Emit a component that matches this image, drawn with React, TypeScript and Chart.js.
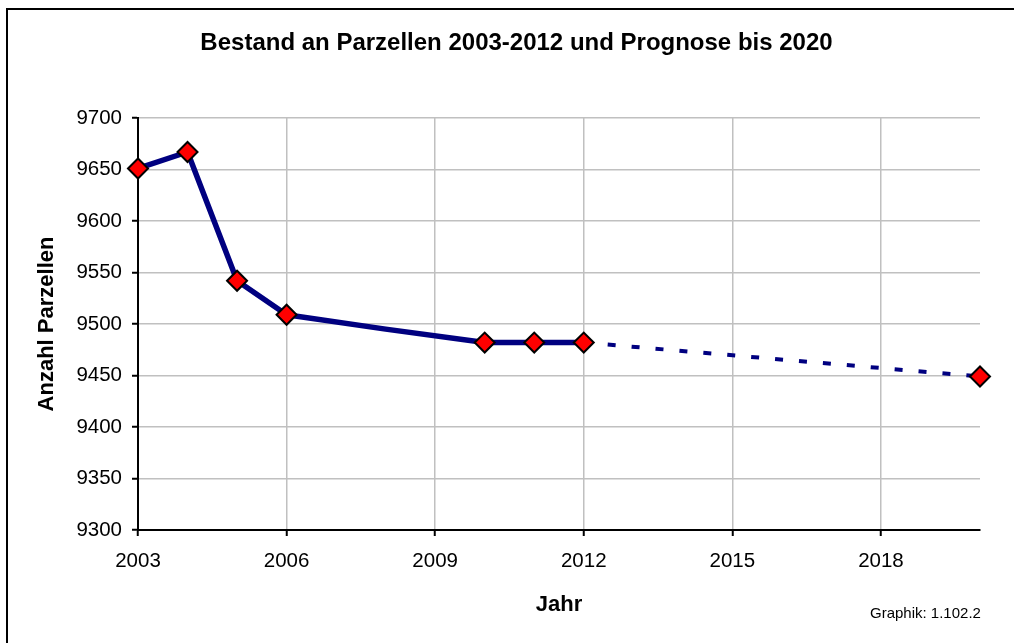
import React, { useEffect, useRef } from "react";
import { Chart, registerables } from "chart.js";

Chart.register(...registerables);

const TITLE = "Bestand an Parzellen 2003-2012 und Prognose bis 2020";
const Y_TITLE = "Anzahl Parzellen";
const X_TITLE = "Jahr";
const NOTE = "Graphik: 1.102.2";

// Bestand (actual values)
const years = [2003, 2004, 2005, 2006, 2008, 2010, 2011, 2012];
const bestand = [9651, 9667, 9542, 9509, 9495, 9482, 9482, 9482];
const markedYears = [2003, 2004, 2005, 2006, 2010, 2011, 2012];

// Prognose (forecast)
const prognoseYears = [2012, 2020];
const prognose = [9482, 9449];

const xTicks = [2003, 2006, 2009, 2012, 2015, 2018];
const xMin = 2003;
const xMax = 2020;
const yMin = 9300;
const yMax = 9700;
const yStep = 50;

const FONT = "'Liberation Sans', Arial, Helvetica, sans-serif";

export default function App() {
  const canvasRef = useRef<HTMLCanvasElement | null>(null);

  useEffect(() => {
    const canvas = canvasRef.current;
    if (!canvas) return;
    Chart.defaults.font.family = FONT;
    Chart.defaults.color = "#000";

    const chart = new Chart(canvas, {
      type: "line",
      data: {
        datasets: [
          {
            label: "Bestand",
            data: years.map((x, i) => ({ x, y: bestand[i] })),
            borderColor: "#000080",
            borderWidth: 5.5,
            borderJoinStyle: "round",
            tension: 0,
            pointStyle: "rectRot",
            pointRadius: (ctx: any) =>
              markedYears.includes(years[ctx.dataIndex]) ? 10 : 0,
            pointBackgroundColor: "#ff0000",
            pointBorderColor: "#000000",
            pointBorderWidth: 2,
            clip: false,
          } as any,
          {
            label: "Prognose",
            data: prognoseYears.map((x, i) => ({ x, y: prognose[i] })),
            borderColor: "#000080",
            borderWidth: 4,
            borderDash: [8, 16],
            borderCapStyle: "butt",
            tension: 0,
            pointStyle: "rectRot",
            pointRadius: (ctx: any) => (ctx.dataIndex === 0 ? 0 : 10),
            pointBackgroundColor: "#ff0000",
            pointBorderColor: "#000000",
            pointBorderWidth: 2,
            clip: false,
          } as any,
        ],
      },
      options: {
        responsive: false,
        animation: false,
        devicePixelRatio: 1,
        events: [],
        layout: { padding: { left: 0, right: 34, top: 118, bottom: 0 } },
        plugins: {
          legend: { display: false },
          tooltip: { enabled: false },
          title: { display: false },
        },
        scales: {
          x: {
            type: "linear",
            min: xMin,
            max: xMax,
            afterBuildTicks: (scale: any) => {
              scale.ticks = xTicks.map((v) => ({ value: v }));
            },
            afterFit: (scale: any) => {
              scale.height = 113;
            },
            ticks: {
              color: "#000",
              font: { family: FONT, size: 20.5 },
              padding: 13,
              maxRotation: 0,
              autoSkip: false,
              callback: (v: any) => String(v),
            },
            grid: {
              color: "#c0c0c0",
              lineWidth: 1.5,
              drawTicks: true,
              tickLength: 6,
              tickColor: "#000",
              tickWidth: 2,
            },
            border: { display: true, color: "#000", width: 2 },
            title: {
              display: true,
              text: X_TITLE,
              color: "#000",
              font: { family: FONT, size: 22, weight: "bold" },
              padding: { top: 0, bottom: 25 },
            },
          },
          y: {
            type: "linear",
            min: yMin,
            max: yMax,
            afterFit: (scale: any) => {
              scale.width = 138;
            },
            ticks: {
              stepSize: yStep,
              color: "#000",
              font: { family: FONT, size: 20.5 },
              padding: 10,
              callback: (v: any) => String(v),
            },
            grid: {
              color: "#c0c0c0",
              lineWidth: 1.5,
              drawTicks: true,
              tickLength: 6,
              tickColor: "#000",
              tickWidth: 2,
            },
            border: { display: true, color: "#000", width: 2 },
            title: {
              display: true,
              text: Y_TITLE,
              color: "#000",
              font: { family: FONT, size: 22, weight: "bold" },
              padding: { top: 34, bottom: 0 },
            },
          },
        },
      } as any,
    });
    return () => chart.destroy();
  }, []);

  return (
    <div
      style={{
        position: "fixed",
        left: 0,
        top: 0,
        width: 1014,
        height: 643,
        overflow: "hidden",
        background: "#fff",
      }}
    >
      <canvas
        ref={canvasRef}
        width={1014}
        height={643}
        style={{ position: "absolute", left: 0, top: 0, width: 1014, height: 643, display: "block" }}
      />
      <div
        style={{
          position: "absolute",
          left: 0,
          top: 30,
          width: 1033,
          textAlign: "center",
          fontFamily: FONT,
          fontSize: 24,
          fontWeight: "bold",
          lineHeight: "24px",
          color: "#000",
          whiteSpace: "nowrap",
        }}
      >
        {TITLE}
      </div>
      <div
        style={{
          position: "absolute",
          left: 6,
          top: 8,
          width: 1100,
          height: 700,
          borderTop: "2px solid #000",
          borderLeft: "2px solid #000",
          pointerEvents: "none",
        }}
      />
      <div
        style={{
          position: "absolute",
          left: 870,
          top: 605,
          fontFamily: FONT,
          fontSize: 15,
          lineHeight: "15px",
          color: "#000",
          whiteSpace: "nowrap",
        }}
      >
        {NOTE}
      </div>
    </div>
  );
}
